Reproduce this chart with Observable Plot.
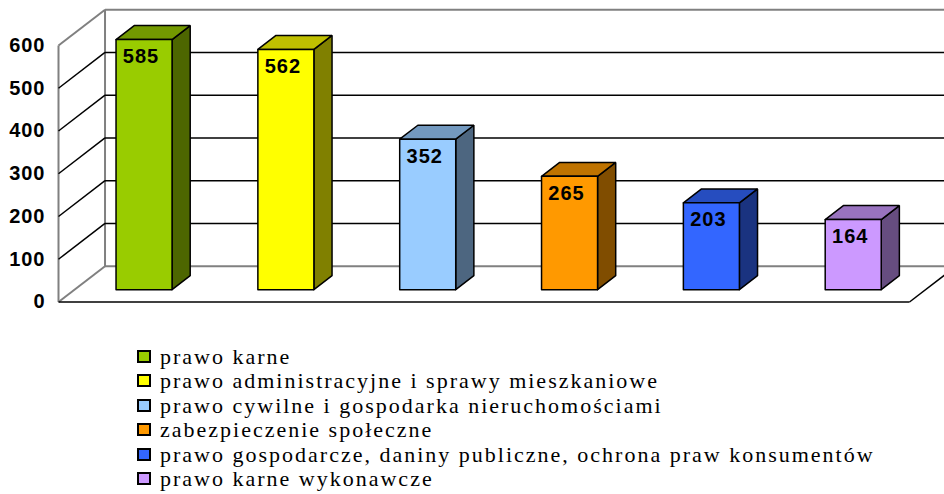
<!DOCTYPE html>
<html>
<head>
<meta charset="utf-8">
<script src="https://cdn.jsdelivr.net/npm/d3@7"></script>
<script src="https://cdn.jsdelivr.net/npm/@observablehq/plot@0.6"></script>
<style>
  body { margin: 0; background: #fff; }
  #wrap { position: relative; width: 944px; height: 494px; overflow: hidden; background: #fff; }
  #chart { position: absolute; left: 0; top: 0; }
  #legend { position: absolute; left: 137px; top: 345px; font-family: "Liberation Serif", "Times New Roman", serif; font-size: 22px; letter-spacing: 2px; color: #000; }
  .row { height: 24.4px; line-height: 24.4px; display: flex; align-items: flex-start; white-space: nowrap; }
  .sw { width: 14px; height: 13px; box-sizing: border-box; border: 2px solid #000; margin-top: 5px; margin-right: 9px; flex: none; }
</style>
</head>
<body>
<div id="wrap"><div id="chart"></div><div id="legend"></div></div>
<script>
// ---- data ----
const categories = [
  "prawo karne",
  "prawo administracyjne i sprawy mieszkaniowe",
  "prawo cywilne i gospodarka nieruchomościami",
  "zabezpieczenie społeczne",
  "prawo gospodarcze, daniny publiczne, ochrona praw konsumentów",
  "prawo karne wykonawcze"
];
const values = [585, 562, 352, 265, 203, 164];
const colors = ["#99CC00", "#FFFF00", "#99CCFF", "#FF9900", "#3366FF", "#CC99FF"];
const yTicks = [0, 100, 200, 300, 400, 500, 600];

// ---- oblique 3D projection (category u, value v, depth w in [0,1]) ----
const N = categories.length;
const DX = 0.328;   // x-units shift for full depth
const DY = 83.7;    // value-units shift for full depth
const P = (u, v, w) => ({x: u + DX * w, y: v + DY * w});
const wf = 0.345, wb = 0.735;       // bar front/back depth
const barC = 0.49, barHalf = 0.1975; // bar center & half width within slot
const vmax = yTicks[yTicks.length - 1];

const shade = (c, k) => { const r = d3.rgb(c); return d3.rgb(r.r * k, r.g * k, r.b * k).formatHex(); };

// wall / grid segments
const seg = (a, b) => ({x1: a.x, y1: a.y, x2: b.x, y2: b.y});
const blackSegs = [], graySegs = [];
for (const t of yTicks) {
  const target = (t === 0 || t === vmax) ? graySegs : blackSegs;
  target.push(seg(P(0, t, 1), P(N, t, 1)));   // back wall line
  target.push(seg(P(0, t, 0), P(0, t, 1)));   // side wall diagonal
}
graySegs.push(seg(P(0, 0, 0), P(0, vmax, 0)));  // side wall front edge
graySegs.push(seg(P(0, 0, 1), P(0, vmax, 1)));  // back wall left edge
blackSegs.push(seg(P(0, 0, 0), P(N, 0, 0)));    // floor front edge
blackSegs.push(seg(P(N, 0, 0), P(N, 0, 1)));    // floor right edge

// bar faces
const barMarks = [];
values.forEach((v, i) => {
  const u0 = i + barC - barHalf, u1 = i + barC + barHalf;
  const front = [P(u0, 0, wf), P(u1, 0, wf), P(u1, v, wf), P(u0, v, wf), P(u0, 0, wf)];
  const top = [P(u0, v, wf), P(u1, v, wf), P(u1, v, wb), P(u0, v, wb), P(u0, v, wf)];
  const side = [P(u1, 0, wf), P(u1, 0, wb), P(u1, v, wb), P(u1, v, wf), P(u1, 0, wf)];
  const opts = {x: "x", y: "y", stroke: "#000", strokeWidth: 1.5, strokeLinejoin: "miter", curve: "linear"};
  barMarks.push(Plot.line(side, {...opts, fill: shade(colors[i], 0.5)}));
  barMarks.push(Plot.line(top, {...opts, fill: shade(colors[i], 0.75)}));
  barMarks.push(Plot.line(front, {...opts, fill: colors[i]}));
});

const labelData = values.map((v, i) => ({...P(i + barC, v, wf), v}));

const chart = Plot.plot({
  width: 944,
  height: 330,
  marginLeft: 58,
  marginRight: 35,
  marginTop: 45,
  marginBottom: 28.5,
  x: {domain: [0, N], axis: null},
  y: {domain: [0, vmax], axis: null},
  style: {fontFamily: "'Liberation Sans', Arial, sans-serif", background: "#fff", letterSpacing: "1px", overflow: "hidden"},
  marks: [
    Plot.link(graySegs, {x1: "x1", y1: "y1", x2: "x2", y2: "y2", stroke: "#808080", strokeWidth: 2}),
    Plot.link(blackSegs, {x1: "x1", y1: "y1", x2: "x2", y2: "y2", stroke: "#000", strokeWidth: 1.5}),
    ...barMarks,
    Plot.text(yTicks, {x: 0, y: d => d, text: d => String(d), textAnchor: "end", dx: -13, fontSize: 20, fontWeight: "bold", fill: "#000"}),
    Plot.text(labelData, {x: "x", y: "y", text: d => String(d.v), dx: -3, dy: 17, fontSize: 20, fontWeight: "bold", fill: "#000"})
  ]
});
document.getElementById("chart").appendChild(chart);

// legend
const legend = d3.select("#legend");
categories.forEach((c, i) => {
  const row = legend.append("div").attr("class", "row");
  row.append("span").attr("class", "sw").style("background", colors[i]);
  row.append("span").text(c);
});
</script>
</body>
</html>
